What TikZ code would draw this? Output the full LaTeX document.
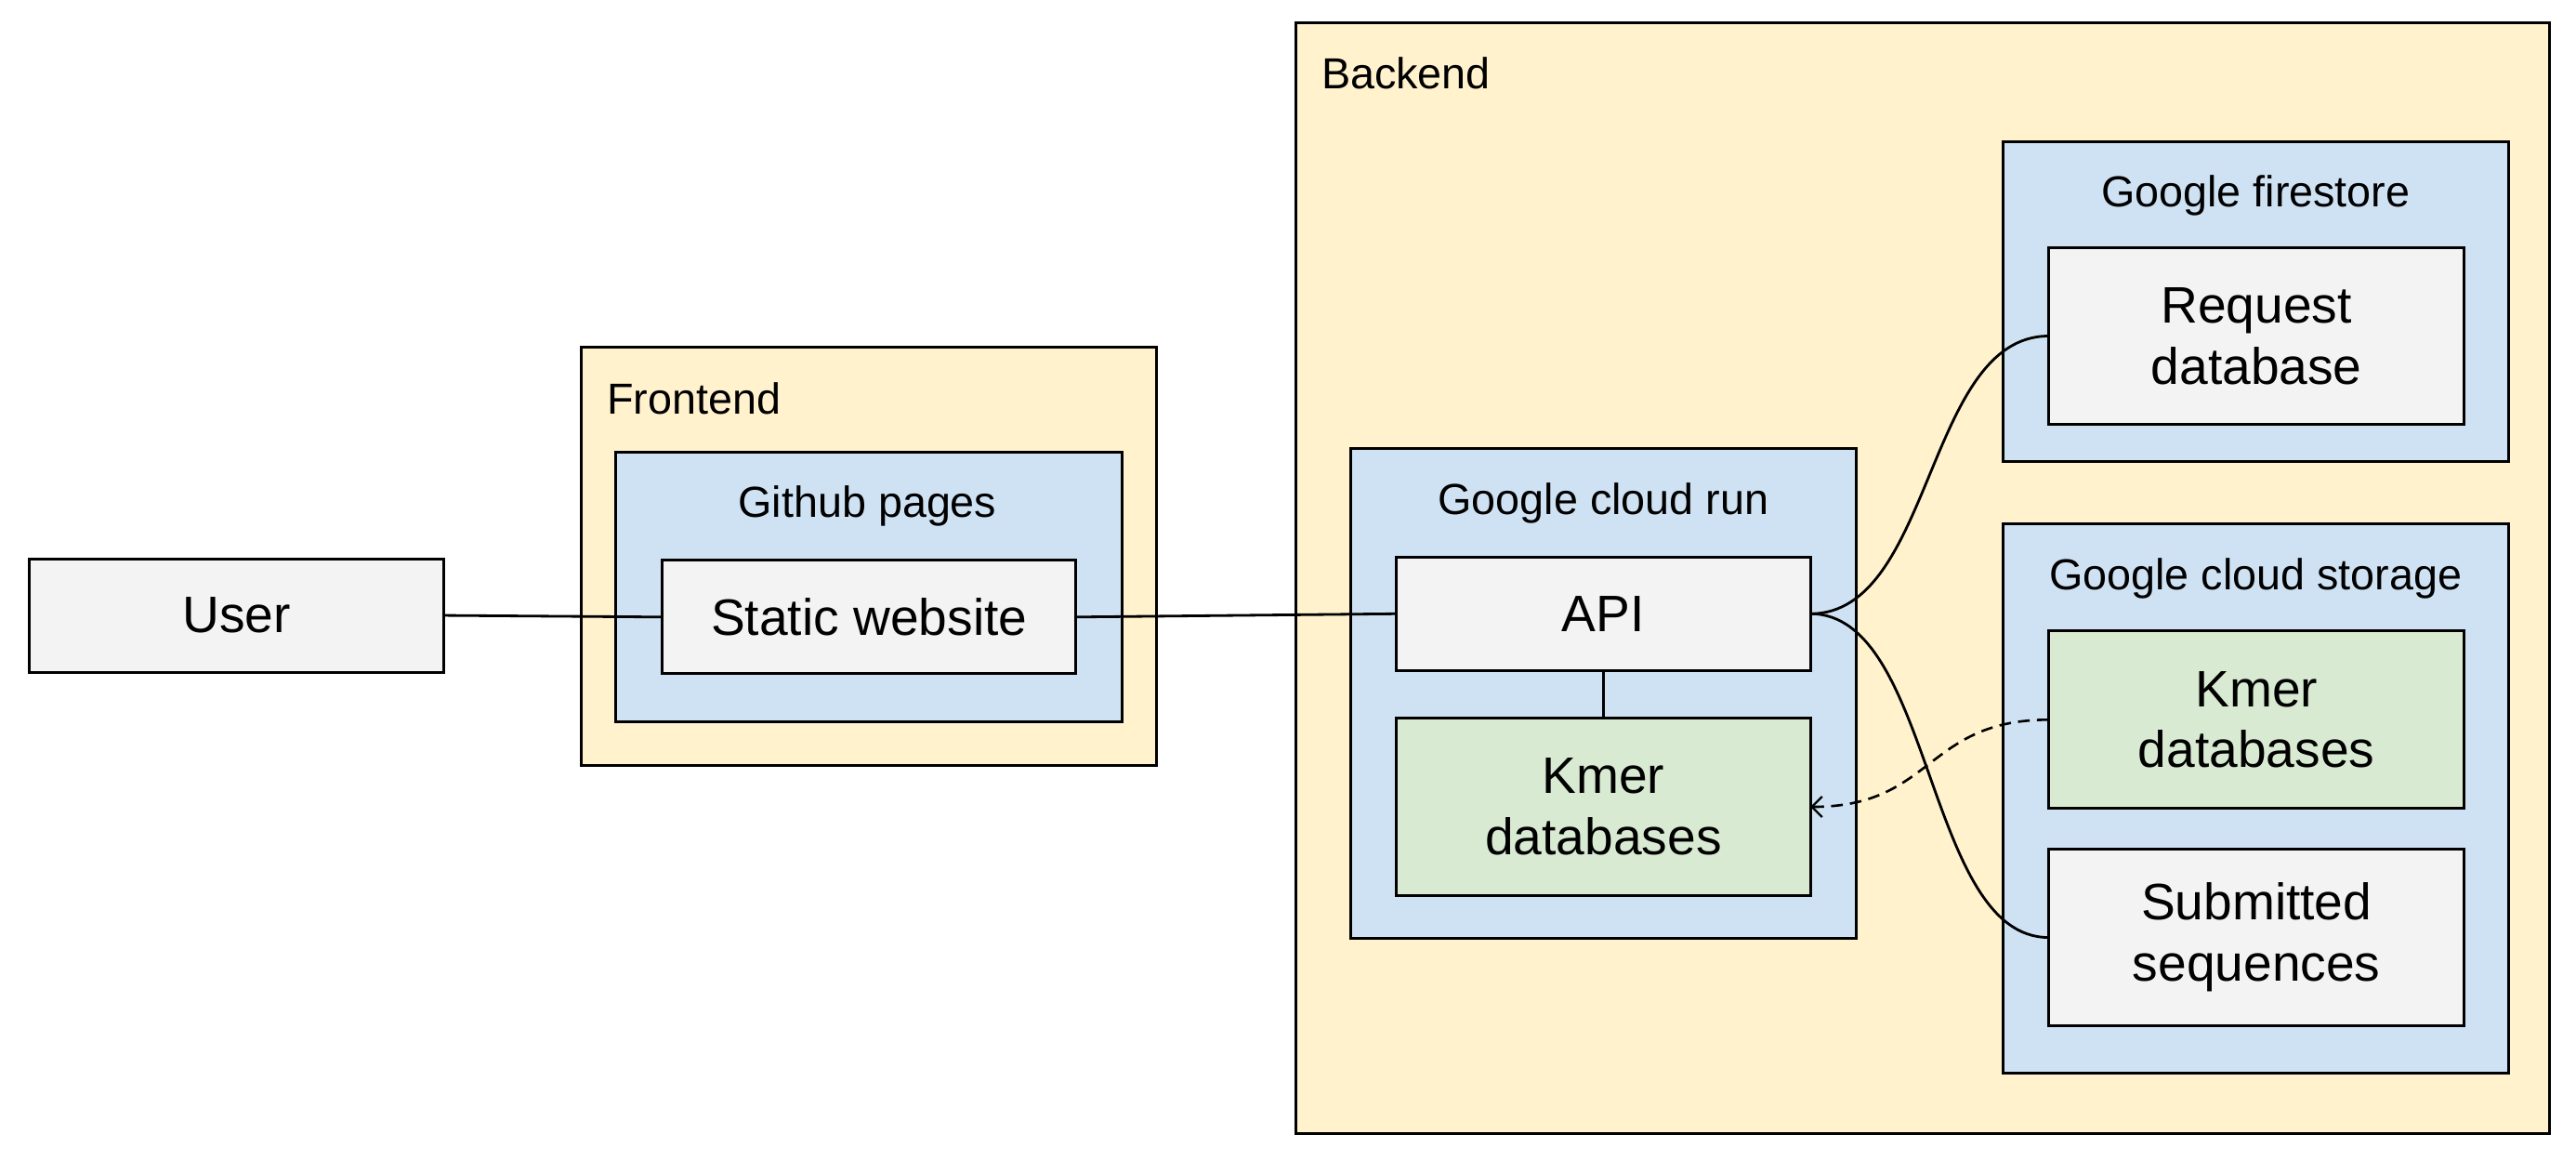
\documentclass[tikz,border=0pt]{standalone}
\usepackage{fontspec}
\setmainfont{Liberation Sans}
\usetikzlibrary{arrows.meta}
\definecolor{yel}{HTML}{FFF2CC}
\definecolor{blu}{HTML}{CFE2F3}
\definecolor{grn}{HTML}{D9EAD3}
\definecolor{gry}{HTML}{F3F3F3}
\newcommand\mybox[7]{%
  \node[#6, minimum width={(#4-#2)*0.017679cm}, minimum height={(#5-#3)*0.017679cm}] (#1) at ({(#2+#4)/2},{(#3+#5)/2}) {#7};}
\tikzset{
  frame/.style={draw, line width=0.85pt, rectangle, inner sep=0pt, outer sep=0pt},
  yelbox/.style={frame, fill=yel},
  blubox/.style={frame, fill=blu},
  leaf/.style={frame, fill=gry, align=center, font=\fontsize{15.7}{18.7}\selectfont},
  kmerbox/.style={leaf, fill=grn},
  lbl/.style={font=\fontsize{13.3}{16}\selectfont, inner sep=0pt, anchor=base},
  lbll/.style={lbl, anchor=base west},
  conn/.style={line width=0.8pt},
  dconn/.style={line width=0.75pt, dash pattern=on 3.6pt off 2.2pt, -{Straight Barb[length=1.1mm, width=2.2mm, line width=0.65pt]}}
}
\begin{document}
\begin{tikzpicture}[x=0.017679cm, y=-0.017679cm]
\useasboundingbox (0,0) rectangle (1568,714);
% containers
\mybox{frontend}{354}{211}{704}{466}{yelbox}{}
\node[lbll] (frontendlbl) at (369,252) {Frontend};
\mybox{github}{375}{275}{683}{439}{blubox}{}
\node[lbl] (githublbl) at (528,315) {Github pages};
\mybox{backend}{789}{14}{1552}{690}{yelbox}{}
\node[lbll] (backendlbl) at (804,54) {Backend};
\mybox{cloudrun}{822}{273}{1130}{571}{blubox}{}
\node[lbl] (cloudrunlbl) at (976,313) {Google cloud run};
\mybox{firestore}{1219}{86}{1527}{281}{blubox}{}
\node[lbl] (firestorelbl) at (1373,126) {Google firestore};
\mybox{storage}{1219}{319}{1527}{653}{blubox}{}
\node[lbl] (storagelbl) at (1373,359) {Google cloud storage};
% leaves
\mybox{user}{18}{340}{270}{409}{leaf}{User}
\mybox{static}{403}{341}{655}{410}{leaf}{Static website}
\mybox{api}{850}{339}{1102}{408}{leaf}{API}
\mybox{kmerl}{850}{437}{1102}{545}{kmerbox}{Kmer\\databases}
\mybox{request}{1247}{151}{1500}{258}{leaf}{Request\\database}
\mybox{kmerr}{1247}{384}{1500}{492}{kmerbox}{Kmer\\databases}
\mybox{submitted}{1247}{517}{1500}{624}{leaf}{Submitted\\sequences}
% connectors
\draw[conn] (user.east) -- (static.west);
\draw[conn] (static.east) -- (api.west);
\draw[conn] (api.south) -- (kmerl.north);
\draw[conn] (api.east) .. controls +(75,0) and +(-75,0) .. (request.west);
\draw[conn] (api.east) .. controls +(75,0) and +(-75,0) .. (submitted.west);
\draw[dconn] (kmerr.west) .. controls +(-75,0) and +(75,0) .. (kmerl.east);
\end{tikzpicture}
\end{document}
